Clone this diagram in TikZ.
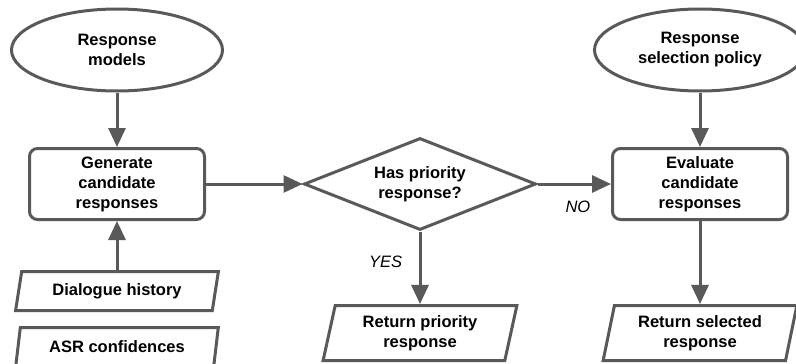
\documentclass[tikz,border=0pt]{standalone}
\usepackage{fontspec}
\setmainfont{Liberation Sans}
\usetikzlibrary{shapes.geometric,arrows.meta}
\definecolor{linegray}{HTML}{595959}

\begin{document}
\begin{tikzpicture}[x=1pt,y=-1pt,
	every node/.style={font=\fontsize{16.5}{20}\selectfont\bfseries, align=center, text=black},
	source/.style={ellipse, draw=linegray, line width=3pt, minimum width=211pt, minimum height=82pt, inner sep=0pt},
	proc/.style={rectangle, rounded corners=8pt, draw=linegray, line width=3pt, minimum width=175pt, minimum height=71pt, inner sep=0pt},
	check/.style={diamond, aspect=2.52, draw=linegray, line width=3pt, minimum width=232pt, minimum height=92pt, inner sep=0pt},
	io/.style={trapezium, trapezium left angle=75, trapezium right angle=105, trapezium stretches=true, draw=linegray, line width=3pt, minimum width=203pt, minimum height=39pt, inner sep=0pt},
	result/.style={io, trapezium left angle=77, trapezium right angle=103, minimum width=194pt, minimum height=55pt},
	flow/.style={draw=linegray, line width=3pt, -{Triangle[length=19pt,width=17pt]}},
	answer/.style={font=\fontsize{16.5}{20}\selectfont\itshape}]
	\useasboundingbox (0,0) rectangle (796,364);
	\clip (0,0) rectangle (796,364);
	% left column
	\node[source] (models) at (117,50) {Response\\models};
	\node[proc] (generate) at (117,184) {Generate\\candidate\\responses};
	\node[io] (history) at (117,291) {Dialogue history};
	\node[io] (asr) at (117,347) {ASR confidences};
	% middle
	\node[check] (priority) at (420,184) {Has priority\\response?};
	\node[result] (retprio) at (420,333) {Return priority\\response};
	% right column
	\node[source] (policy) at (700,50) {Response\\selection policy};
	\node[proc] (evaluate) at (700,184) {Evaluate\\candidate\\responses};
	\node[result] (retsel) at (700,333) {Return selected\\response};
	% connectors
	\draw[flow] (models) -- (generate);
	\draw[flow] (history) -- (generate);
	\draw[flow] (generate) -- (priority);
	\draw[flow] (priority) -- node[answer, below=12pt, pos=0.55] {NO} (evaluate);
	\draw[flow] (priority) -- node[answer, left=13pt, pos=0.42] {YES} (retprio);
	\draw[flow] (policy) -- (evaluate);
	\draw[flow] (evaluate) -- (retsel);
\end{tikzpicture}
\end{document}
